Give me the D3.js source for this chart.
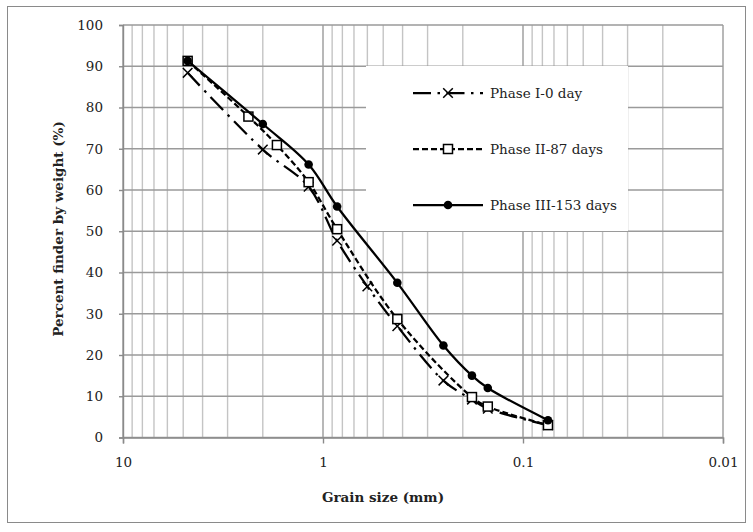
<!DOCTYPE html>
<html>
<head>
<meta charset="utf-8">
<script src="https://cdn.jsdelivr.net/npm/d3@7"></script>
<style>
  body { margin: 0; background: #fff; }
  text { font-family: "DejaVu Serif", "Liberation Serif", serif; fill: #222; }
</style>
</head>
<body>
<div id="chart"></div>
<script>
// data
var seriesNames = ["Phase I-0 day", "Phase II-87 days", "Phase III-153 days"];
var phase1Size = [4.75, 2.0, 1.18, 0.85, 0.6, 0.425, 0.25, 0.18, 0.15, 0.075];
var phase1Pct  = [88.4, 69.8, 60.8, 47.7, 36.6, 27.0, 13.8, 9.2, 7.0, 3.0];
var phase2Size = [4.75, 2.36, 1.7, 1.18, 0.85, 0.425, 0.18, 0.15, 0.075];
var phase2Pct  = [91.3, 77.8, 70.9, 61.9, 50.5, 28.7, 9.8, 7.5, 3.0];
var phase3Size = [4.75, 2.0, 1.18, 0.85, 0.425, 0.25, 0.18, 0.15, 0.075];
var phase3Pct  = [91.3, 76.0, 66.2, 56.0, 37.5, 22.3, 15.0, 12.0, 4.2];
var xTicks = [10, 1, 0.1, 0.01];
var yTicks = [0, 10, 20, 30, 40, 50, 60, 70, 80, 90, 100];

var width = 753;
var height = 532;
// plot area
var plotLeft = 123, plotRight = 723, plotTop = 25, plotBottom = 437.5;
var fontSize = "13.5px";

var svg = d3.select("#chart")
    .append("svg")
    .attr("width", width)
    .attr("height", height);

// outer frame
svg.append("rect")
    .attr("x", 7.5).attr("y", 6.5)
    .attr("width", 738).attr("height", 516)
    .attr("fill", "none")
    .attr("stroke", "#8a8a8a")
    .attr("stroke-width", 1);

var xScale = d3.scaleLog().domain([10, 0.01]).range([plotLeft, plotRight]);
var yScale = d3.scaleLinear().domain([0, 100]).range([plotBottom, plotTop]);

// minor vertical grid (2..9 in each decade)
var minor = [];
[1, 0.1, 0.01].forEach(function(dec) {
  for (var k = 2; k <= 9; k++) minor.push(k * dec);
});
svg.append("g").selectAll("line").data(minor).enter()
    .append("line")
    .attr("x1", function(d) { return xScale(d); })
    .attr("x2", function(d) { return xScale(d); })
    .attr("y1", plotTop).attr("y2", plotBottom)
    .attr("stroke", "#c4c4c4")
    .attr("stroke-width", 1.4);

// major grid
svg.append("g").selectAll("line").data(xTicks).enter()
    .append("line")
    .attr("x1", function(d) { return xScale(d); })
    .attr("x2", function(d) { return xScale(d); })
    .attr("y1", plotTop).attr("y2", plotBottom)
    .attr("stroke", "#9a9a9a")
    .attr("stroke-width", 1.4);

svg.append("g").selectAll("line").data(yTicks).enter()
    .append("line")
    .attr("x1", plotLeft).attr("x2", plotRight)
    .attr("y1", function(d) { return yScale(d); })
    .attr("y2", function(d) { return yScale(d); })
    .attr("stroke", "#9a9a9a")
    .attr("stroke-width", 1.4);

// axes
var xAxis = d3.axisBottom(xScale)
    .tickValues(xTicks)
    .tickSize(6)
    .tickFormat(function(d) { return String(d); });
var gx = svg.append("g")
    .attr("transform", `translate(0, ${plotBottom})`)
    .call(xAxis);
gx.select(".domain").attr("stroke", "#8a8a8a").attr("stroke-width", 1.4);
gx.selectAll(".tick line").attr("stroke", "#8a8a8a").attr("stroke-width", 1.4);
gx.selectAll(".tick text")
    .attr("y", 20)
    .attr("font-size", fontSize)
    .style("font-family", '"DejaVu Serif", serif');

var yAxis = d3.axisLeft(yScale).tickValues(yTicks).tickSize(4);
var gy = svg.append("g")
    .attr("transform", `translate(${plotLeft}, 0)`)
    .call(yAxis);
gy.select(".domain").attr("stroke", "#8a8a8a").attr("stroke-width", 1.4);
gy.selectAll(".tick line").attr("stroke", "#8a8a8a").attr("stroke-width", 1.4);
gy.selectAll(".tick text")
    .attr("x", -20)
    .attr("font-size", fontSize)
    .style("font-family", '"DejaVu Serif", serif');

// axis titles
svg.append("text")
    .attr("x", 383)
    .attr("y", 502)
    .attr("text-anchor", "middle")
    .attr("font-size", fontSize)
    .attr("font-weight", "bold")
    .text("Grain size (mm)");

svg.append("text")
    .attr("transform", "translate(63, 229) rotate(-90)")
    .attr("text-anchor", "middle")
    .attr("font-size", fontSize)
    .attr("font-weight", "bold")
    .text("Percent finder by weight (%)");

// series
var series = [
  { name: seriesNames[0], size: phase1Size, pct: phase1Pct, dash: "18,6.5,2.5,6.5", marker: "x" },
  { name: seriesNames[1], size: phase2Size, pct: phase2Pct, dash: "6,3", marker: "square" },
  { name: seriesNames[2], size: phase3Size, pct: phase3Pct, dash: null, marker: "circle" }
];

var line = d3.line()
    .x(function(d) { return xScale(d[0]); })
    .y(function(d) { return yScale(d[1]); })
    .curve(d3.curveCatmullRom.alpha(0.5));

function drawMarker(g, type, x, y) {
  if (type === "x") {
    var s = 4.8;
    g.append("path")
        .attr("d", `M${x - s},${y - s}L${x + s},${y + s}M${x - s},${y + s}L${x + s},${y - s}`)
        .attr("stroke", "#000").attr("stroke-width", 1.5).attr("fill", "none");
  } else if (type === "square") {
    g.append("rect")
        .attr("x", x - 4.5).attr("y", y - 4.5)
        .attr("width", 9).attr("height", 9)
        .attr("fill", "#fff").attr("stroke", "#000").attr("stroke-width", 1.5);
  } else {
    g.append("circle")
        .attr("cx", x).attr("cy", y).attr("r", 4.3)
        .attr("fill", "#000");
  }
}

series.forEach(function(s) {
  var pts = s.size.map(function(v, i) { return [v, s.pct[i]]; });
  var g = svg.append("g");
  g.append("path")
      .attr("d", line(pts))
      .attr("fill", "none")
      .attr("stroke", "#000")
      .attr("stroke-width", 2.25)
      .attr("stroke-dasharray", s.dash);
  pts.forEach(function(p) {
    drawMarker(g, s.marker, xScale(p[0]), yScale(p[1]));
  });
});

// legend
var legend = svg.append("g");
legend.append("rect")
    .attr("x", 366).attr("y", 66)
    .attr("width", 262).attr("height", 165)
    .attr("fill", "#fff");

var legendY = [93, 149, 205];
series.forEach(function(s, i) {
  var y = legendY[i];
  legend.append("line")
      .attr("x1", 413).attr("x2", 483)
      .attr("y1", y).attr("y2", y)
      .attr("stroke", "#000")
      .attr("stroke-width", 2.25)
      .attr("stroke-dasharray", s.dash);
  drawMarker(legend, s.marker, 448, y);
  legend.append("text")
      .attr("x", 490)
      .attr("y", y + 5)
      .attr("font-size", fontSize)
      .text(s.name);
});
</script>
</body>
</html>
